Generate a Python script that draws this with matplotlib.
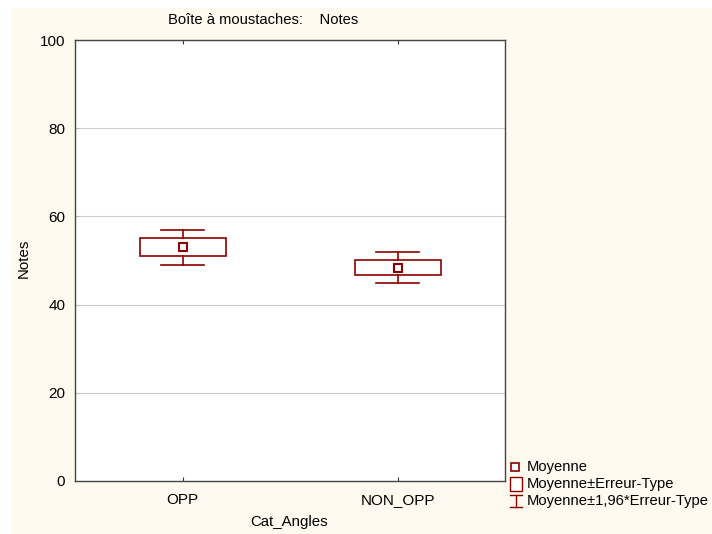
import matplotlib
matplotlib.use("Agg")
import matplotlib.pyplot as plt
from matplotlib.patches import Rectangle
from matplotlib.lines import Line2D

categories = ["OPP", "NON_OPP"]
means = [53.0, 48.4]
std_errors = [2.05, 1.75]
y_ticks = [0, 20, 40, 60, 80, 100]

title = "Boîte à moustaches:    Notes"
x_label = "Cat_Angles"
y_label = "Notes"
legend_labels = ["Moyenne", "Moyenne±Erreur-Type", "Moyenne±1,96*Erreur-Type"]

RED = "#8B0000"
CREAM = "#FEFAF0"
W, H = 712, 534

plt.rcParams["font.family"] = ["Liberation Sans", "DejaVu Sans"]

fig = plt.figure(figsize=(W / 100, H / 100), dpi=100, facecolor="white")
# cream background panel (white margin at top and left)
fig.patches.append(Rectangle((11 / W, 0), 1 - 11 / W, (H - 8) / H,
                             transform=fig.transFigure, facecolor=CREAM,
                             edgecolor="none", zorder=-10))

ax = fig.add_axes([75 / W, 53 / H, 430 / W, 441 / H])
ax.set_facecolor("white")

box_w = 0.4
cap_w = 0.2
for i, (m, se) in enumerate(zip(means, std_errors)):
    lo, hi = m - se, m + se
    wlo, whi = m - 1.96 * se, m + 1.96 * se
    ax.add_patch(Rectangle((i - box_w / 2, lo), box_w, hi - lo, facecolor="white",
                           edgecolor=RED, linewidth=1.2, zorder=3))
    ax.plot([i, i], [hi, whi], color=RED, lw=1.2, zorder=3)
    ax.plot([i, i], [wlo, lo], color=RED, lw=1.2, zorder=3)
    ax.plot([i - cap_w / 2, i + cap_w / 2], [whi, whi], color=RED, lw=1.2, zorder=3)
    ax.plot([i - cap_w / 2, i + cap_w / 2], [wlo, wlo], color=RED, lw=1.2, zorder=3)
    ax.plot([i], [m], marker="s", ms=6, mfc="white", mec=RED, mew=1.5, zorder=4)

ax.set_xlim(-0.5, 1.5)
ax.set_ylim(0, 100)
ax.set_xticks(range(len(categories)))
ax.set_xticklabels(categories, fontsize=11)
ax.set_yticks(y_ticks)
ax.set_yticklabels([str(t) for t in y_ticks], fontsize=11)
ax.tick_params(axis="x", direction="in", length=3, top=True, color="#333333", pad=9)
ax.tick_params(axis="y", direction="in", length=3, color="#BBBBBB", pad=7)
for t in y_ticks[1:-1]:
    ax.axhline(t, color="#CFCFCF", lw=0.8, zorder=1)
for s in ax.spines.values():
    s.set_color("#444444")
    s.set_linewidth(1.0)

fig.text(168 / W, 1 - 20 / H, title, ha="left", va="center", fontsize=10.6)
fig.text(289 / W, 1 - 522 / H, x_label, ha="center", va="center", fontsize=10.8)
fig.text(24 / W, 1 - 258 / H, y_label, ha="center", va="center", fontsize=10.8, rotation=90)

# legend (manual)
rows = [467, 484, 501]
tx = 527 / W
fig.add_artist(Line2D([515 / W], [1 - rows[0] / H], marker="s", ms=5.5, mfc="white",
                      mec=RED, mew=1.2, transform=fig.transFigure))
fig.add_artist(Rectangle((510 / W, 1 - (rows[1] + 7) / H), 12 / W, 14 / H,
                         transform=fig.transFigure, facecolor="white",
                         edgecolor=RED, lw=1.0))
yc = 1 - rows[2] / H
fig.add_artist(Line2D([516 / W, 516 / W], [yc + 6 / H, yc - 6 / H], color=RED, lw=1.0,
                      transform=fig.transFigure))
fig.add_artist(Line2D([510 / W, 522 / W], [yc + 6 / H, yc + 6 / H], color=RED, lw=1.0,
                      transform=fig.transFigure))
fig.add_artist(Line2D([510 / W, 522 / W], [yc - 6 / H, yc - 6 / H], color=RED, lw=1.0,
                      transform=fig.transFigure))
for r, lab in zip(rows, legend_labels):
    fig.text(tx, 1 - r / H, lab, ha="left", va="center", fontsize=10.6)

fig.savefig("out.png", dpi=100, facecolor=fig.get_facecolor())
